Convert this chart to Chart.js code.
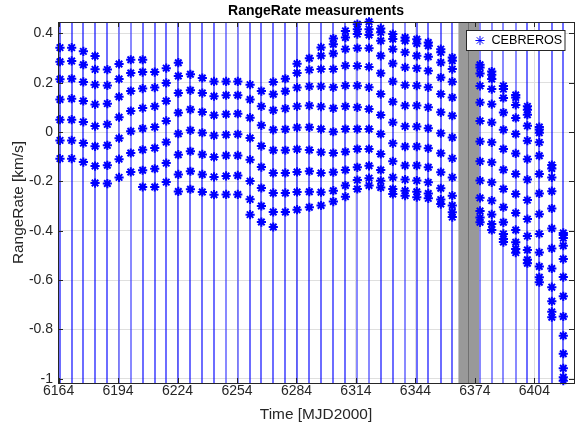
<!DOCTYPE html>
<html lang="en">
<head>
    <meta charset="UTF-8">
    <title>RangeRate measurements</title>
    <script src="https://cdn.jsdelivr.net/npm/chart.js"></script>
    <style>
        body { margin: 0; background: #fff; }
        #wrap { width: 582px; height: 430px; }
    </style>
</head>
<body>
<div id="wrap"><canvas id="rrChart" width="582" height="430"></canvas></div>
<script>
// pass epochs (MJD2000) and the range-rate samples of each pass [km/s]
const passDays = [
    6164.7, 6170.6, 6176.5, 6182.4, 6188.6, 6194.5, 6200.4, 6206.4, 6212.5, 6218.3,
    6224.4, 6230.5, 6236.5, 6242.4, 6248.5, 6254.4, 6260.6, 6266.3, 6272.3, 6278.4,
    6284.3, 6290.5, 6296.4, 6302.6, 6308.7, 6314.7, 6320.6, 6326.5, 6332.6, 6338.8,
    6344.7, 6350.5, 6356.8, 6362.6, 6376.6, 6382.5, 6388.4, 6394.6, 6400.5, 6406.5,
    6412.8, 6418.6
];
const rangeRate = [
    [0.342, 0.285, 0.214, 0.132, 0.050, -0.034, -0.108],
    [0.342, 0.288, 0.216, 0.135, 0.050, -0.034, -0.108],
    [0.327, 0.273, 0.203, 0.126, 0.041, -0.045, -0.122],
    [0.308, 0.254, 0.192, 0.112, 0.024, -0.058, -0.138, -0.207],
    [0.253, 0.189, 0.115, 0.031, -0.054, -0.135, -0.209],
    [0.276, 0.215, 0.143, 0.060, -0.025, -0.110, -0.184],
    [0.293, 0.239, 0.166, 0.085, 0.003, -0.085, -0.162],
    [0.293, 0.243, 0.176, 0.097, 0.014, -0.072, -0.155, -0.223],
    [0.243, 0.180, 0.104, 0.020, -0.065, -0.149, -0.223],
    [0.259, 0.199, 0.126, 0.045, -0.041, -0.126, -0.203],
    [0.281, 0.227, 0.158, 0.078, -0.007, -0.092, -0.172, -0.241],
    [0.234, 0.169, 0.091, 0.007, -0.078, -0.159, -0.232],
    [0.219, 0.158, 0.081, -0.003, -0.091, -0.172, -0.243],
    [0.205, 0.145, 0.068, -0.014, -0.101, -0.182, -0.254],
    [0.205, 0.149, 0.072, -0.011, -0.095, -0.178, -0.253],
    [0.205, 0.149, 0.074, -0.009, -0.095, -0.176, -0.253],
    [0.192, 0.132, 0.058, -0.024, -0.112, -0.199, -0.273, -0.335],
    [0.166, 0.104, 0.027, -0.057, -0.142, -0.227, -0.300, -0.365],
    [0.203, 0.153, 0.088, 0.009, -0.074, -0.166, -0.247, -0.324, -0.385],
    [0.216, 0.165, 0.095, 0.011, -0.074, -0.166, -0.247, -0.324],
    [0.277, 0.239, 0.180, 0.104, 0.018, -0.070, -0.162, -0.243, -0.315],
    [0.299, 0.252, 0.185, 0.107, 0.019, -0.073, -0.159, -0.242, -0.305],
    [0.343, 0.309, 0.255, 0.185, 0.103, 0.012, -0.082, -0.166, -0.244, -0.298],
    [0.379, 0.356, 0.318, 0.255, 0.181, 0.096, 0.001, -0.085, -0.163, -0.238, -0.282],
    [0.410, 0.383, 0.336, 0.269, 0.188, 0.104, 0.012, -0.080, -0.154, -0.217, -0.262],
    [0.437, 0.417, 0.397, 0.340, 0.268, 0.188, 0.100, 0.012, -0.069, -0.143, -0.195, -0.231],
    [0.447, 0.417, 0.393, 0.340, 0.264, 0.181, 0.093, 0.012, -0.069, -0.137, -0.187, -0.217],
    [0.420, 0.404, 0.370, 0.309, 0.238, 0.154, 0.069, -0.008, -0.089, -0.154, -0.198, -0.225],
    [0.397, 0.377, 0.336, 0.278, 0.205, 0.123, 0.039, -0.046, -0.119, -0.184, -0.231, -0.251],
    [0.383, 0.370, 0.323, 0.262, 0.190, 0.107, 0.023, -0.059, -0.136, -0.193, -0.238, -0.258],
    [0.376, 0.359, 0.309, 0.258, 0.188, 0.107, 0.022, -0.059, -0.136, -0.197, -0.242, -0.264],
    [0.363, 0.350, 0.305, 0.248, 0.181, 0.100, 0.015, -0.066, -0.143, -0.204, -0.249, -0.269],
    [0.336, 0.323, 0.282, 0.221, 0.154, 0.080, -0.005, -0.086, -0.163, -0.228, -0.274, -0.292],
    [0.302, 0.289, 0.255, 0.204, 0.140, 0.066, -0.022, -0.107, -0.184, -0.258, -0.298, -0.325, -0.345],
    [0.273, 0.262, 0.237, 0.187, 0.120, 0.045, -0.038, -0.119, -0.197, -0.267, -0.320, -0.347, -0.366],
    [0.245, 0.232, 0.215, 0.174, 0.113, 0.039, -0.042, -0.123, -0.204, -0.278, -0.334, -0.373, -0.397],
    [0.187, 0.174, 0.138, 0.079, 0.009, -0.069, -0.153, -0.231, -0.305, -0.366, -0.413, -0.434, -0.446],
    [0.150, 0.140, 0.110, 0.057, -0.008, -0.087, -0.170, -0.251, -0.328, -0.397, -0.447, -0.474, -0.489],
    [0.104, 0.090, 0.070, 0.025, -0.035, -0.110, -0.193, -0.276, -0.353, -0.422, -0.478, -0.518, -0.532],
    [0.020, 0.010, -0.003, -0.042, -0.096, -0.170, -0.249, -0.333, -0.413, -0.488, -0.545, -0.589, -0.609],
    [-0.134, -0.148, -0.184, -0.240, -0.310, -0.391, -0.472, -0.553, -0.629, -0.686, -0.729, -0.751],
    [-0.409, -0.418, -0.430, -0.461, -0.515, -0.588, -0.666, -0.748, -0.826, -0.899, -0.958, -0.994, -1.008]
];
const gapDays = [6365.7, 6370.7, 6376.1];   // shaded interval, with inner edge
const xTicks = [6164, 6194, 6224, 6254, 6284, 6314, 6344, 6374, 6404];
const yTicks = [-1, -0.8, -0.6, -0.4, -0.2, 0, 0.2, 0.4];

// passes whose line shows up lighter/wider in the plot
const faintPasses = [5, 6, 14, 15, 25, 26, 29, 34, 35, 36, 37];

const points = [];
passDays.forEach((d, i) => {
    rangeRate[i].forEach(v => points.push({ x: d, y: v }));
});

const FONT = "'Liberation Sans', Arial, Helvetica, sans-serif";
const AXIS_COLOR = '#262626';
Chart.defaults.font.family = FONT;

const passLines = {
    id: 'passLines',
    beforeDatasetsDraw(chart) {
        const { ctx, chartArea: a, scales: { x } } = chart;
        ctx.save();
        ctx.beginPath();
        ctx.rect(a.left, a.top, a.width, a.height);
        ctx.clip();

        const g0 = x.getPixelForValue(gapDays[0]);
        const g1 = x.getPixelForValue(gapDays[2]);
        ctx.fillStyle = 'rgb(153,153,153)';
        ctx.fillRect(g0, a.top, g1 - g0, a.height);
        const gm = Math.round(x.getPixelForValue(gapDays[1])) + 0.5;
        ctx.strokeStyle = 'rgb(112,112,112)';
        ctx.lineWidth = 1;
        ctx.beginPath();
        ctx.moveTo(gm, a.top);
        ctx.lineTo(gm, a.bottom);
        ctx.stroke();

        passDays.forEach((d, i) => {
            const faint = faintPasses.includes(i);
            const px = Math.round(x.getPixelForValue(d));
            ctx.strokeStyle = faint ? 'rgba(40,40,255,0.55)' : 'rgb(0,0,255)';
            ctx.lineWidth = faint ? 2 : 1.15;
            ctx.beginPath();
            ctx.moveTo(px, a.top);
            ctx.lineTo(px, a.bottom);
            ctx.stroke();
        });
        ctx.restore();
    },
    afterDraw(chart) {
        const { ctx, chartArea: a, scales: { x, y } } = chart;
        ctx.save();
        // axes box with inward ticks (MATLAB style)
        ctx.strokeStyle = AXIS_COLOR;
        ctx.lineWidth = 1;
        ctx.strokeRect(Math.round(a.left) + 0.5, Math.round(a.top) + 0.5,
                       Math.round(a.width), Math.round(a.height));
        ctx.beginPath();
        xTicks.forEach(t => {
            const px = Math.round(x.getPixelForValue(t)) + 0.5;
            ctx.moveTo(px, a.bottom); ctx.lineTo(px, a.bottom - 5);
            ctx.moveTo(px, a.top); ctx.lineTo(px, a.top + 5);
        });
        yTicks.forEach(t => {
            const py = Math.round(y.getPixelForValue(t)) + 0.5;
            ctx.moveTo(a.left, py); ctx.lineTo(a.left + 5, py);
            ctx.moveTo(a.right, py); ctx.lineTo(a.right - 5, py);
        });
        ctx.stroke();

        // legend
        const lx = a.right - 107.5, ly = a.top + 8.5, lw = 98.5, lh = 20;
        ctx.fillStyle = '#fff';
        ctx.fillRect(lx, ly, lw, lh);
        ctx.strokeStyle = AXIS_COLOR;
        ctx.strokeRect(lx, ly, lw, lh);
        ctx.strokeStyle = 'rgb(0,0,255)';
        ctx.fillStyle = 'rgb(0,0,255)';
        Chart.helpers.drawPoint(ctx, { pointStyle: 'star', radius: 4.6, borderWidth: 2 },
                                lx + 13.5, ly + lh / 2);
        ctx.fillStyle = '#000';
        ctx.font = '12.6px ' + FONT;
        ctx.textAlign = 'left';
        ctx.textBaseline = 'middle';
        ctx.fillText(chart.data.datasets[0].label, lx + 25, ly + lh / 2 + 0.5);
        ctx.restore();
    }
};

new Chart(document.getElementById('rrChart'), {
    type: 'scatter',
    data: {
        datasets: [{
            label: 'CEBREROS',
            data: points,
            pointStyle: 'star',
            pointRadius: 4.6,
            pointBorderWidth: 2,
            borderColor: 'rgb(0,0,255)',
            backgroundColor: 'rgb(0,0,255)',
            clip: false
        }]
    },
    options: {
        responsive: false,
        animation: false,
        layout: { padding: { top: 0, right: 8, bottom: 0, left: 0 } },
        plugins: {
            legend: { display: false },
            tooltip: { enabled: false },
            title: {
                display: true,
                fullSize: false,
                text: 'RangeRate measurements',
                color: '#000',
                font: { size: 14, weight: 'bold' },
                padding: { top: 3, bottom: 2.2 }
            }
        },
        scales: {
            x: {
                type: 'linear',
                min: 6163.7,
                max: 6424,
                afterBuildTicks: s => { s.ticks = xTicks.map(v => ({ value: v })); },
                afterFit: s => { s.height = 47; },
                border: { display: false },
                grid: { color: 'rgb(223,223,223)', drawTicks: false },
                ticks: {
                    color: AXIS_COLOR,
                    font: { size: 14 },
                    padding: 0,
                    maxRotation: 0,
                    autoSkip: false,
                    callback: v => String(v)
                },
                title: {
                    display: true,
                    text: 'Time [MJD2000]',
                    color: AXIS_COLOR,
                    font: { size: 15.4 },
                    padding: { top: 0, bottom: 6 }
                }
            },
            y: {
                min: -1.0175,
                max: 0.446,
                afterBuildTicks: s => { s.ticks = yTicks.map(v => ({ value: v })); },
                afterFit: s => { s.width = 58; },
                border: { display: false },
                grid: { color: 'rgb(223,223,223)', drawTicks: false },
                ticks: {
                    color: AXIS_COLOR,
                    font: { size: 14 },
                    padding: 5,
                    callback: v => String(v)
                },
                title: {
                    display: true,
                    text: 'RangeRate [km/s]',
                    color: AXIS_COLOR,
                    font: { size: 15.4 },
                    padding: { top: 10, bottom: 0 }
                }
            }
        }
    },
    plugins: [passLines]
});
</script>
</body>
</html>
